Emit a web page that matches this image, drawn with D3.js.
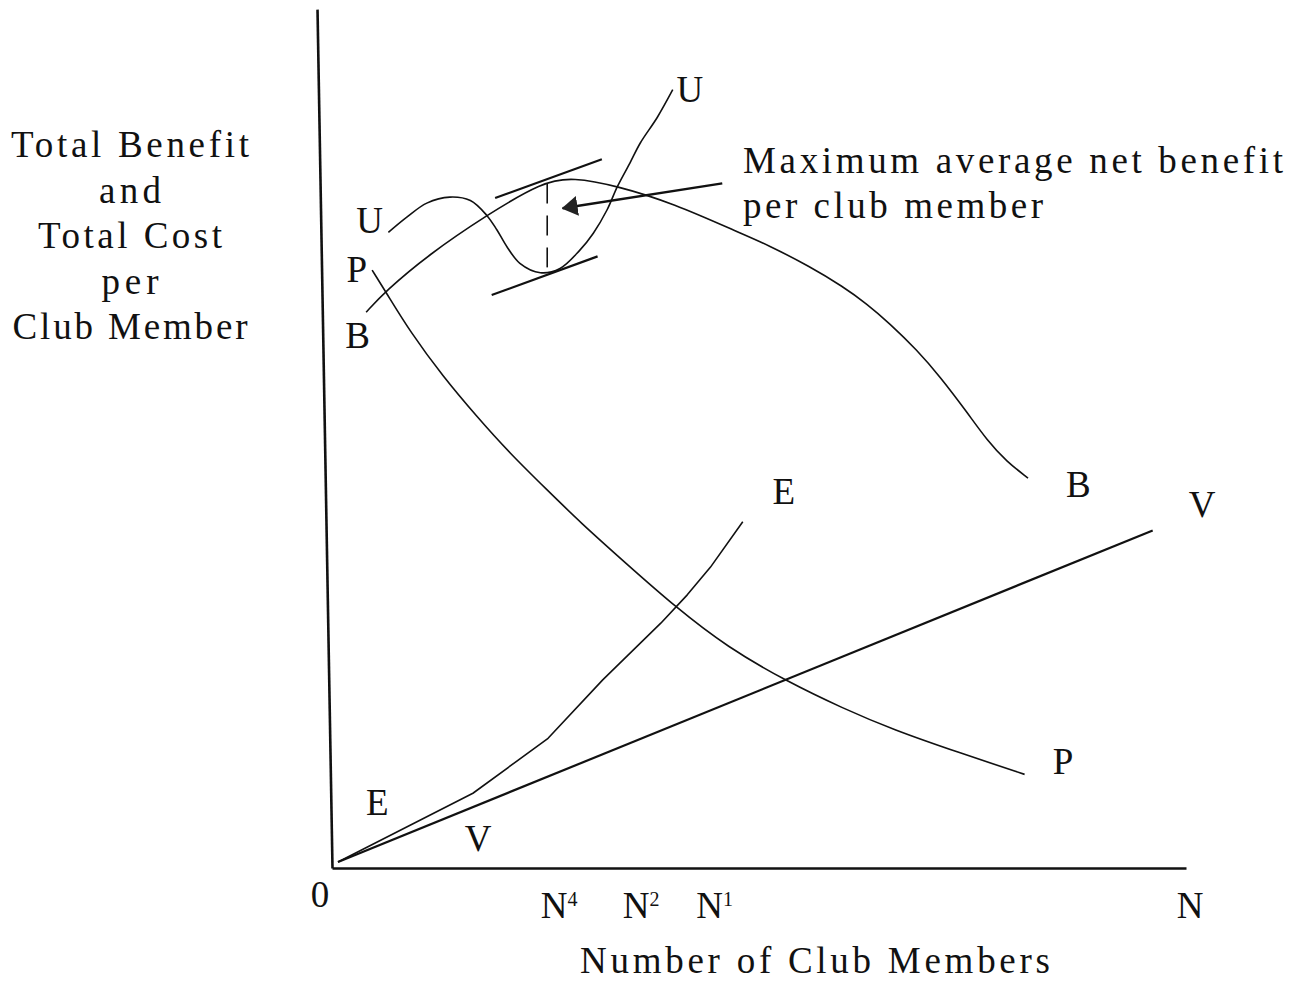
<!DOCTYPE html>
<html>
<head>
<meta charset="utf-8">
<script src="https://cdn.jsdelivr.net/npm/d3@7"></script>
<style>
  body { margin: 0; background: #fff; }
  text { font-family: "Liberation Serif", "Times New Roman", serif; fill: #111; }
</style>
</head>
<body>
<div id="chart"></div>
<script>
// curves, x = members (0-100), y = benefit/cost (0-100)
var curveU = [[6.6,74.0],[8.8,75.8],[11.1,77.4],[13.8,78.1],[16.2,77.7],[18.1,76.0],[19.3,74.3],[20.5,72.3],
              [22.0,70.4],[24.4,69.3],[26.7,69.8],[29.0,71.9],[30.6,73.9],[32.2,76.6],[33.4,79.3],[34.9,82.1],
              [36.1,84.4],[38.1,87.4],[39.9,90.6]];
var curveB = [[4.0,64.7],[6.2,67.1],[11.3,71.4],[18.1,76.0],[24.7,79.9],[28.2,80.4],[33.4,79.4],[39.9,77.4],
              [47.8,73.9],[50.9,72.6],[56.0,70.0],[59.8,67.7],[62.6,65.7],[65.3,63.4],[68.5,60.3],[71.2,57.2],
              [74.4,53.0],[76.7,49.8],[79.0,47.3],[81.5,45.4]];
var curveP = [[4.7,69.6],[6.4,66.9],[9.1,62.5],[13.0,57.2],[17.0,52.5],[20.8,48.3],[25.2,44.0],[29.0,40.3],
              [34.5,35.4],[40.2,30.4],[46.3,25.7],[53.3,21.7],[59.8,18.6],[65.7,16.1],[73.5,13.4],[81.1,10.9]];
var curveE = [[0.7,0.7],[16.5,8.7],[25.3,15.1],[31.7,21.9],[38.5,28.5],[41.6,31.8],[44.3,35.0],[48.1,40.3]];
var lineV  = [[0.7,0.7],[96.1,39.3]];

var tangentTop = [[19.1,78.0],[31.6,82.5]];
var tangentBottom = [[18.7,66.7],[31.1,71.2]];
var nOptimum = 25.2, gapTop = 79.7, gapBottom = 69.3;
var arrowLine = [[45.7,79.7],[27.0,76.8]];

var curveLabels = [
  {t:"U", x:4.4, y:73.9}, {t:"U", x:41.9, y:89.2},
  {t:"P", x:2.9, y:68.2}, {t:"B", x:3.0, y:60.5},
  {t:"B", x:87.4, y:43.2}, {t:"V", x:101.9, y:40.9},
  {t:"P", x:85.6, y:10.9}, {t:"E", x:52.9, y:42.4},
  {t:"E", x:5.3, y:6.2}, {t:"V", x:17.1, y:2.0}
];
var xTicks = [
  {t:"0", sup:"", v:0}, {t:"N", sup:"4", v:26.6}, {t:"N", sup:"2", v:36.2},
  {t:"N", sup:"1", v:44.8}, {t:"N", sup:"", v:100}
];
var yTitle = ["Total Benefit", "and", "Total Cost", "per", "Club Member"];
var yTitleWidths = [238, 62, 184, 57, 235];
var xTitle = "Number of Club Members";
var note = ["Maximum average net benefit", "per club member"];
var noteWidths = [540, 300];

var W = 1298, H = 982;
var svg = d3.select("#chart").append("svg").attr("width", W).attr("height", H);

var x = d3.scaleLinear().domain([0, 100]).range([332, 1186]);
var y = d3.scaleLinear().domain([0, 100]).range([868, 9]);

svg.append("defs").append("marker")
    .attr("id", "head")
    .attr("viewBox", "0 0 16 20")
    .attr("refX", 15).attr("refY", 10)
    .attr("markerWidth", 16).attr("markerHeight", 20)
    .attr("markerUnits", "userSpaceOnUse")
    .attr("orient", "auto")
  .append("path")
    .attr("d", "M0,0 L16,10 L0,20 Z")
    .attr("fill", "#222");

// axes (no ticks, just the lines)
svg.append("g")
    .attr("transform", "translate(0," + y(0) + ")")
    .call(d3.axisBottom(x).tickValues([]).tickSizeOuter(0));
svg.append("g")
    .attr("transform", "rotate(-1," + x(0) + "," + y(0) + ") translate(" + x(0) + ",0)")
    .call(d3.axisLeft(y).tickValues([]).tickSizeOuter(0));
svg.selectAll(".domain").attr("stroke", "#111").attr("stroke-width", 2.6);

var smooth = d3.line().x(function(d) { return x(d[0]); }).y(function(d) { return y(d[1]); })
    .curve(d3.curveCatmullRom.alpha(0.5));
var soft = d3.line().x(function(d) { return x(d[0]); }).y(function(d) { return y(d[1]); })
    .curve(d3.curveBasis);
var straight = d3.line().x(function(d) { return x(d[0]); }).y(function(d) { return y(d[1]); });

function draw(data, gen, w) {
  return svg.append("path").datum(data)
    .attr("d", gen).attr("fill", "none")
    .attr("stroke", "#111").attr("stroke-width", w)
    .attr("stroke-linejoin", "round");
}

draw(curveU, smooth, 1.6);
draw(curveB, soft, 1.6);
draw(curveP, soft, 1.6);
draw(curveE, straight, 1.6);
draw(lineV, straight, 2.2);
draw(tangentTop, straight, 2.2);
draw(tangentBottom, straight, 2.2);

svg.append("line")
    .attr("x1", x(nOptimum)).attr("x2", x(nOptimum))
    .attr("y1", y(gapTop)).attr("y2", y(gapBottom))
    .attr("stroke", "#111").attr("stroke-width", 1.6)
    .attr("stroke-dasharray", "20,12");

draw(arrowLine, straight, 2.4).attr("marker-end", "url(#head)");

// curve letters
svg.selectAll(".clab").data(curveLabels).enter().append("text")
    .attr("class", "clab")
    .attr("x", function(d) { return x(d.x); })
    .attr("y", function(d) { return y(d.y); })
    .attr("text-anchor", "middle")
    .attr("font-size", 37)
    .text(function(d) { return d.t; });

// x tick labels with superscripts
var tk = svg.selectAll(".xt").data(xTicks).enter().append("text")
    .attr("class", "xt")
    .attr("x", function(d) { return x(d.v) + (d.t === "0" ? -12 : (d.sup === "" ? 4 : 0)); })
    .attr("y", function(d) { return y(0) + (d.t === "0" ? 39 : 50); })
    .attr("text-anchor", "middle")
    .attr("font-size", 37);
tk.append("tspan").text(function(d) { return d.t; });
tk.filter(function(d) { return d.sup !== ""; }).append("tspan")
    .attr("font-size", 20).attr("dy", -12)
    .text(function(d) { return d.sup; });

// y title
svg.selectAll(".yt").data(yTitle).enter().append("text")
    .attr("class", "yt")
    .attr("x", 130)
    .attr("y", function(d, i) { return 157 + i * 45.5; })
    .attr("text-anchor", "middle")
    .attr("font-size", 37)
    .attr("textLength", function(d, i) { return yTitleWidths[i]; })
    .attr("lengthAdjust", "spacing")
    .text(function(d) { return d; });

svg.append("text")
    .attr("x", 815).attr("y", 973)
    .attr("text-anchor", "middle")
    .attr("font-size", 37)
    .attr("textLength", 470).attr("lengthAdjust", "spacing")
    .text(xTitle);

svg.selectAll(".note").data(note).enter().append("text")
    .attr("class", "note")
    .attr("x", 743)
    .attr("y", function(d, i) { return 173 + i * 45; })
    .attr("font-size", 37)
    .attr("textLength", function(d, i) { return noteWidths[i]; })
    .attr("lengthAdjust", "spacing")
    .text(function(d) { return d; });
</script>
</body>
</html>
